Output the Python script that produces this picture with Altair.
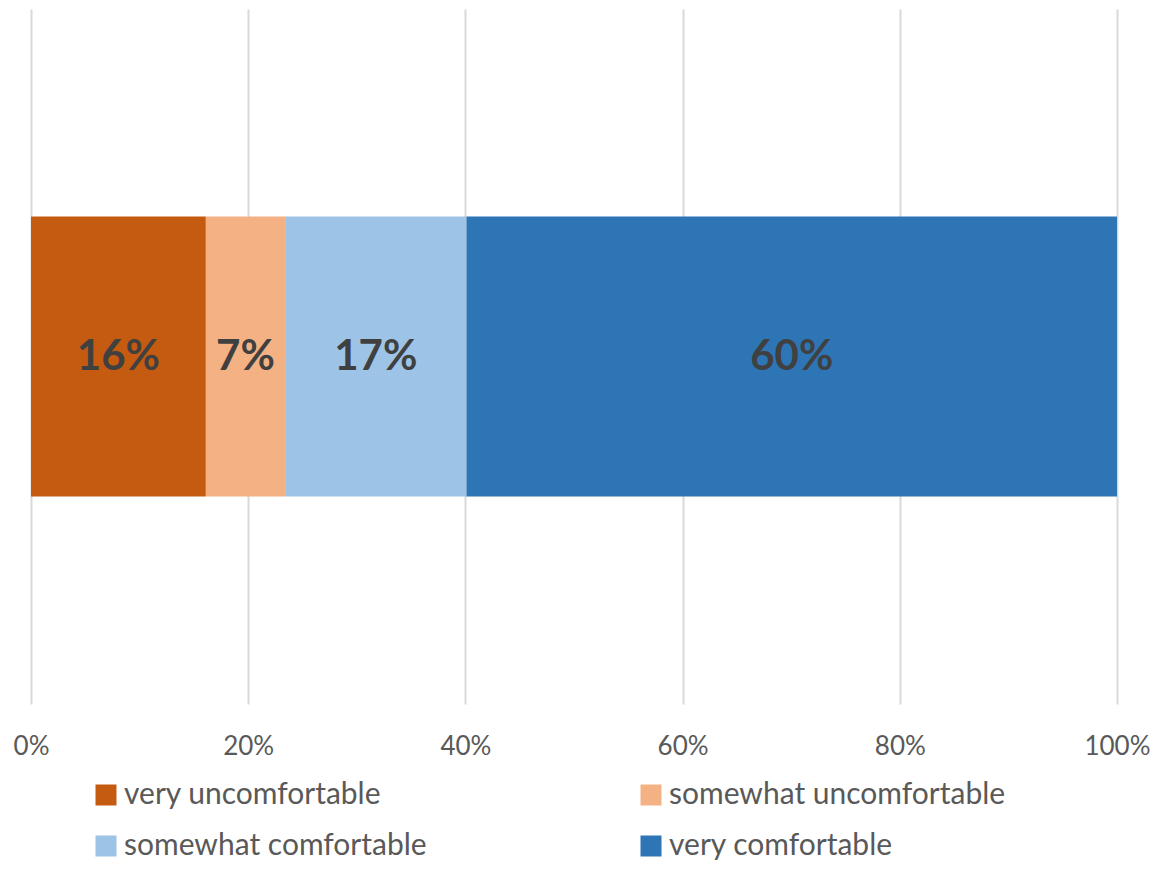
import altair as alt
import pandas as pd

categories = ["very uncomfortable", "somewhat uncomfortable", "somewhat comfortable", "very comfortable"]
shares = [0.161, 0.073, 0.167, 0.599]
colors = ["#C55A11", "#F4B183", "#9DC3E6", "#2E75B6"]
tick_values = [0, 0.2, 0.4, 0.6, 0.8, 1.0]

df = pd.DataFrame({
    "category": categories,
    "share": shares,
    "order": list(range(len(categories))),
    "row": ["all"] * len(categories),
})

FONT = "Lato"

base = alt.Chart(df).transform_stack(
    stack="share", as_=["x0", "x1"], groupby=["row"], sort=[alt.SortField("order")]
).transform_calculate(mid="(datum.x0 + datum.x1) / 2")

yenc = alt.Y("row:N", axis=None, scale=alt.Scale(paddingInner=0, paddingOuter=0.741))

bars = base.mark_bar().encode(
    x=alt.X(
        "x0:Q",
        scale=alt.Scale(domain=[0, 1], nice=False),
        axis=alt.Axis(
            values=tick_values, format=".0%", title=None, domain=False, ticks=False,
            grid=True, gridColor="#D9D9D9", gridWidth=2, labelFont=FONT, labelFontSize=26,
            labelColor="#595959", labelPadding=29, labelFlush=False,
        ),
    ),
    x2="x1:Q",
    y=yenc,
    color=alt.Color(
        "category:N",
        scale=alt.Scale(domain=categories, range=colors),
        sort=categories,
        legend=alt.Legend(
            title=None, orient="none", legendX=60, legendY=771, columns=2,
            direction="horizontal",
            symbolType="square", symbolSize=441, symbolStrokeWidth=0, symbolOpacity=1,
            labelFont=FONT, labelFontSize=30, labelColor="#595959", labelOffset=3,
            columnPadding=209, rowPadding=21, padding=0, labelLimit=0,
        ),
    ),
)

labels = base.mark_text(font=FONT, fontSize=42, fontWeight="bold", color="#404040", baseline="middle").encode(
    x=alt.X("mid:Q"),
    y=yenc,
    text=alt.Text("share:Q", format=".0%"),
)

chart = alt.layer(bars, labels).properties(
    width=1086, height=695,
    autosize=alt.AutoSizeParams(type="none"),
    padding={"left": 23, "top": 1, "right": 35, "bottom": 157},
).configure_view(strokeWidth=0)

chart.save("out.html", embed_options={"renderer": "svg", "actions": False})
